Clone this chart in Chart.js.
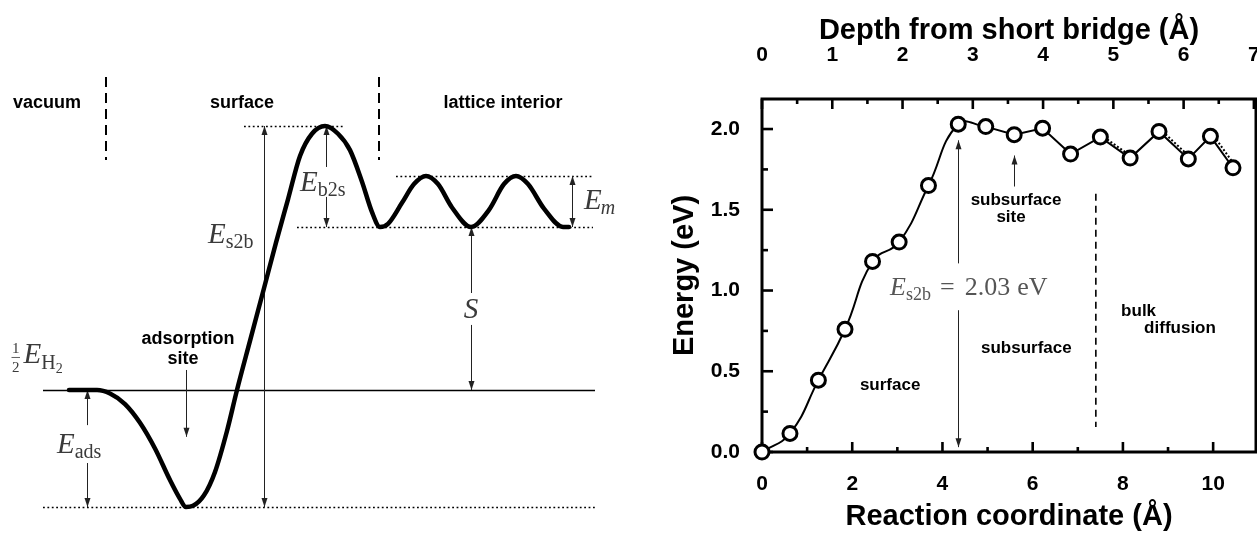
<!DOCTYPE html>
<html>
<head>
<meta charset="utf-8">
<script src="https://cdn.jsdelivr.net/npm/chart.js@4.4.1/dist/chart.umd.min.js"></script>
<style>
	html, body { margin: 0; padding: 0; background: #fff; }
	#wrap { position: relative; width: 1257px; height: 533px; overflow: hidden; }
	#scheme { position: absolute; left: 0; top: 0; }
	#profile { position: absolute; left: 620px; top: 0; }
</style>
</head>
<body>
<div id="wrap">
	<canvas id="scheme" width="620" height="533"></canvas>
	<canvas id="profile" width="637" height="533"></canvas>
</div>
<script>
// ---- right panel: energy profile along the path ----
const coord = [0, 0.62, 1.25, 1.84, 2.45, 3.04, 3.69, 4.35, 4.96, 5.59, 6.22, 6.84, 7.50, 8.16, 8.80, 9.45, 9.94, 10.44]
const energy = [0, 0.115, 0.445, 0.76, 1.18, 1.30, 1.65, 2.03, 2.015, 1.965, 2.005, 1.845, 1.95, 1.82, 1.985, 1.815, 1.955, 1.76]
const smoothUntil = 8 // curve is splined up to this image, straight after
const dottedCoord = [7.58, 8.24, null, 8.88, 9.53, null, 10.02, 10.52]
const dottedEnergy = [1.95, 1.82, null, 1.985, 1.815, null, 1.955, 1.76]
const coordTicks = [0, 2, 4, 6, 8, 10]
const coordMinor = [1, 3, 5, 7, 9]
const depthTicks = [0, 1, 2, 3, 4, 5, 6, 7]
const depthMinor = [0.5, 1.5, 2.5, 3.5, 4.5, 5.5, 6.5]
const energyTicks = [0, 0.5, 1, 1.5, 2]
const energyMinor = [0.25, 0.75, 1.25, 1.75]
const coordMax = 10.95
const depthMax = 7.03
const energyMax = 2.186
const barrier = 2.03

// ---- left panel: schematic potential (arbitrary units, H2/2 level = 0, adsorption well = -1) ----
const pathX = [6.9, 9.7, 11.0, 12.5, 14.0, 15.5, 17.0, 18.0, 18.6, 19.3, 20.4, 21.5, 22.7, 23.7, 25.0, 26.4, 27.6, 28.8, 30.0, 31.2, 32.5, 33.8, 35.0, 36.2, 37.2, 38.0, 38.8, 40.2, 41.4, 42.6, 43.8, 45.2, 47.1, 48.9, 50.4, 51.6, 52.8, 54.4, 56.3, 56.9]
const pathE = [0, 0, -0.03, -0.12, -0.28, -0.50, -0.77, -0.93, -1.0, -0.99, -0.90, -0.70, -0.35, 0, 0.42, 0.87, 1.26, 1.63, 2.0, 2.19, 2.256, 2.19, 2.05, 1.78, 1.52, 1.393, 1.42, 1.60, 1.76, 1.829, 1.76, 1.56, 1.393, 1.54, 1.76, 1.829, 1.76, 1.55, 1.393, 1.393]
const levelH2 = 0
const levelAds = -1
const levelTop = 2.256
const levelSub = 1.393
const levelMig = 1.829

Chart.defaults.font.family = '"Liberation Sans", Arial, sans-serif'
Chart.defaults.color = '#000'

const sans = (s) => 'bold ' + s + 'px "Liberation Sans", Arial, sans-serif'
const rm = (s) => s + 'px "Liberation Serif", "DejaVu Serif", serif'
const it = (s) => 'italic ' + s + 'px "Liberation Serif", "DejaVu Serif", serif'
const mathColor = '#3a3a3a'

function line(ctx, x1, y1, x2, y2) {
	ctx.beginPath()
	ctx.moveTo(x1, y1)
	ctx.lineTo(x2, y2)
	ctx.stroke()
}

function head(ctx, x, y, dir) {
	// dir -1 points up, +1 points down, tip at (x, y)
	ctx.beginPath()
	ctx.moveTo(x, y)
	ctx.lineTo(x - 3, y - dir * 9)
	ctx.lineTo(x + 3, y - dir * 9)
	ctx.closePath()
	ctx.fill()
}

// vertical measure: arrow heads at hi (up) and/or lo (down), optional gap for a label
function measure(ctx, X, Y, m) {
	const x = Math.round(X(m.x)) + 0.5
	const top = Y(m.hi)
	const bot = Y(m.lo)
	if (m.gap) {
		line(ctx, x, top, x, Y(m.gap[0]))
		line(ctx, x, Y(m.gap[1]), x, bot)
	} else {
		line(ctx, x, top, x, bot)
	}
	if (m.up !== false) head(ctx, x, top, -1)
	if (m.down !== false) head(ctx, x, bot, 1)
}

function mathLabel(ctx, x, y, runs, align) {
	let w = 0
	for (const r of runs) {
		ctx.font = r.font
		r.w = r.frac ? Math.max(...r.frac.map((t) => ctx.measureText(t).width)) : ctx.measureText(r.t).width
		w += r.w + (r.gap || 0)
	}
	let cx = align === 'center' ? x - w / 2 : x
	ctx.textAlign = 'left'
	ctx.textBaseline = 'alphabetic'
	for (const r of runs) {
		ctx.font = r.font
		if (r.frac) {
			const c = cx + r.w / 2
			ctx.textAlign = 'center'
			ctx.fillText(r.frac[0], c, y - 10)
			ctx.fillText(r.frac[1], c, y + 9)
			ctx.textAlign = 'left'
			ctx.fillRect(cx - 0.5, y - 6, r.w + 1, 0.8)
		} else {
			ctx.fillText(r.t, cx, y + (r.dy || 0))
		}
		cx += r.w + (r.gap || 0)
	}
}

// ---------- left schematic ----------
const schemeLevels = { from: 4.3, to: 59.5 }
const schemeDotted = [
	{ e: levelAds, from: 4.3, to: 59.5 },
	{ e: levelTop, from: 24.4, to: 34.5 },
	{ e: levelMig, from: 39.6, to: 59.3 },
	{ e: levelSub, from: 29.7, to: 59.3 },
]
const regionBorders = [10.6, 37.9]
const regionSpan = [2.675, 1.966]
const regionNames = [
	{ t: 'vacuum', x: 4.7 },
	{ t: 'surface', x: 24.2 },
	{ t: 'lattice interior', x: 50.3 },
]
const regionNameE = 2.45
const schemeMeasures = [
	{ x: 26.35, hi: levelTop, lo: levelAds },
	{ x: 32.6, hi: levelTop, lo: levelSub, gap: [1.906, 1.65] },
	{ x: 57.2, hi: levelMig, lo: levelSub },
	{ x: 47.1, hi: levelSub, lo: levelH2, gap: [0.829, 0.556] },
	{ x: 8.7, hi: levelH2, lo: levelAds, gap: [-0.30, -0.624] },
	{ x: 18.6, hi: 0.171, lo: -0.40, up: false },
]

const schemeNotes = {
	id: 'schemeNotes',
	beforeDatasetsDraw(chart) {
		const { ctx, scales: { x, y } } = chart
		const X = (v) => x.getPixelForValue(v)
		const Y = (v) => y.getPixelForValue(v)
		ctx.save()
		ctx.strokeStyle = '#000'
		ctx.fillStyle = '#000'
		ctx.lineWidth = 1.6
		line(ctx, X(schemeLevels.from), Math.round(Y(levelH2)) + 0.5, X(schemeLevels.to), Math.round(Y(levelH2)) + 0.5)
		ctx.setLineDash([1.8, 2.6])
		ctx.lineWidth = 1.6
		for (const d of schemeDotted) {
			const yy = Math.round(Y(d.e)) + 0.5
			line(ctx, X(d.from), yy, X(d.to), yy)
		}
		ctx.setLineDash([10, 6])
		ctx.lineWidth = 2
		for (const b of regionBorders) line(ctx, X(b), Y(regionSpan[0]), X(b), Y(regionSpan[1]))
		ctx.setLineDash([])

		ctx.strokeStyle = '#222'
		ctx.fillStyle = '#222'
		ctx.lineWidth = 1
		for (const m of schemeMeasures) measure(ctx, X, Y, m)

		ctx.fillStyle = '#000'
		ctx.font = sans(18)
		ctx.textAlign = 'center'
		ctx.textBaseline = 'middle'
		for (const r of regionNames) ctx.fillText(r.t, X(r.x), Y(regionNameE))
		ctx.fillText('adsorption', X(18.8), Y(0.436))
		ctx.fillText('site', X(18.3), Y(0.265))

		ctx.fillStyle = mathColor
		mathLabel(ctx, X(1.2), Y(0.231), [
			{ frac: ['1', '2'], font: rm(15), gap: 4 },
			{ t: 'E', font: it(29), gap: 0 },
			{ t: 'H', font: rm(20), dy: 6 },
			{ t: '2', font: rm(14), dy: 10 },
		])
		mathLabel(ctx, X(5.7), Y(-0.538), [{ t: 'E', font: it(29), gap: 0 }, { t: 'ads', font: rm(20), dy: 5 }])
		mathLabel(ctx, X(20.8), Y(1.256), [{ t: 'E', font: it(29), gap: 0 }, { t: 's2b', font: rm(20), dy: 5 }])
		mathLabel(ctx, X(30.0), Y(1.70), [{ t: 'E', font: it(29), gap: 0 }, { t: 'b2s', font: rm(20), dy: 5 }])
		mathLabel(ctx, X(58.4), Y(1.547), [{ t: 'E', font: it(29), gap: -1 }, { t: 'm', font: it(20), dy: 5 }])
		mathLabel(ctx, X(47.1), Y(0.615), [{ t: 'S', font: it(29) }], 'center')
		ctx.restore()
	},
}

new Chart(document.getElementById('scheme'), {
	type: 'scatter',
	data: {
		datasets: [
			{
				label: 'potential',
				data: pathX.map((x, i) => ({ x, y: pathE[i] })),
				showLine: true,
				borderColor: '#000',
				borderWidth: 4.5,
				borderCapStyle: 'round',
				borderJoinStyle: 'round',
				cubicInterpolationMode: 'monotone',
				pointRadius: 0,
			},
		],
	},
	options: {
		responsive: false,
		animation: false,
		events: [],
		layout: { padding: 0, autoPadding: false },
		plugins: { legend: { display: false }, tooltip: { enabled: false } },
		scales: {
			x: { type: 'linear', display: false, min: 0, max: 62 },
			y: { type: 'linear', display: false, min: -1.222, max: 3.333 },
		},
	},
	plugins: [schemeNotes],
})

// ---------- right energy profile ----------
const profileDecor = {
	id: 'profileDecor',
	beforeDatasetsDraw(chart) {
		const { ctx, chartArea: a, scales: { x, x2, y } } = chart
		const X = (v) => x.getPixelForValue(v)
		const Y = (v) => y.getPixelForValue(v)
		ctx.save()
		ctx.strokeStyle = '#000'
		ctx.fillStyle = '#000'
		ctx.lineWidth = 2.6
		for (const v of coordTicks) line(ctx, X(v), a.bottom, X(v), a.bottom - 10)
		for (const v of coordMinor) line(ctx, X(v), a.bottom, X(v), a.bottom - 5)
		for (const v of depthTicks) line(ctx, x2.getPixelForValue(v), a.top, x2.getPixelForValue(v), a.top + 10)
		for (const v of depthMinor) line(ctx, x2.getPixelForValue(v), a.top, x2.getPixelForValue(v), a.top + 5)
		for (const v of energyTicks) line(ctx, a.left, Y(v), a.left + 11, Y(v))
		for (const v of energyMinor) line(ctx, a.left, Y(v), a.left + 6, Y(v))
		ctx.lineWidth = 3
		ctx.strokeRect(a.left, a.top, a.right - a.left, a.bottom - a.top)

		// barrier measure and site pointer
		ctx.strokeStyle = '#222'
		ctx.fillStyle = '#222'
		ctx.lineWidth = 1
		measure(ctx, X, Y, { x: coord[7], hi: 1.93, lo: 0.03, gap: [1.168, 0.878] })
		measure(ctx, X, Y, { x: coord[9], hi: 1.836, lo: 1.644, down: false })

		ctx.strokeStyle = '#000'
		ctx.lineWidth = 1.6
		ctx.setLineDash([7, 5])
		line(ctx, X(7.40), Y(1.60), X(7.40), Y(0.155))
		ctx.setLineDash([])

		ctx.fillStyle = '#000'
		ctx.font = sans(17)
		ctx.textBaseline = 'middle'
		ctx.textAlign = 'center'
		ctx.fillText('subsurface', X(5.63), Y(1.557))
		ctx.fillText('site', X(5.52), Y(1.452))
		ctx.fillText('surface', X(2.84), Y(0.415))
		ctx.fillText('subsurface', X(5.86), Y(0.643))
		ctx.textAlign = 'left'
		ctx.fillText('bulk', X(7.96), Y(0.87))
		ctx.fillText('diffusion', X(8.47), Y(0.766))

		ctx.fillStyle = '#555'
		mathLabel(ctx, X(2.84), Y(0.97), [
			{ t: 'E', font: it(26), gap: 0 },
			{ t: 's2b', font: rm(18), dy: 5, gap: 9 },
			{ t: '=', font: rm(26), gap: 10 },
			{ t: barrier.toFixed(2), font: rm(26), gap: 7 },
			{ t: 'eV', font: rm(26) },
		])
		ctx.restore()
	},
}

const images = coord.map((c, i) => ({ x: c, y: energy[i] }))
const dotted = dottedCoord.map((c, i) => (c === null ? { x: null, y: null } : { x: c, y: dottedEnergy[i] }))
const tickFont = { family: '"Liberation Sans", Arial, sans-serif', weight: 'bold', size: 21 }
const titleFont = { family: '"Liberation Sans", Arial, sans-serif', weight: 'bold', size: 29, lineHeight: 1.1 }
const noPad = (s) => {
	s.paddingLeft = 0
	s.paddingRight = 0
	s.paddingTop = 0
	s.paddingBottom = 0
}

new Chart(document.getElementById('profile'), {
	type: 'scatter',
	data: {
		datasets: [
			{
				label: 'images',
				data: images,
				showLine: false,
				pointRadius: 7,
				pointBorderWidth: 3,
				pointBackgroundColor: '#fff',
				pointBorderColor: '#000',
				clip: false,
				order: 0,
			},
			{
				label: 'path (spline)',
				data: images.slice(0, smoothUntil + 1),
				showLine: true,
				tension: 0.45,
				borderColor: '#000',
				borderWidth: 2,
				pointRadius: 0,
				order: 1,
			},
			{
				label: 'path',
				data: images.slice(smoothUntil),
				showLine: true,
				tension: 0,
				borderColor: '#000',
				borderWidth: 2,
				pointRadius: 0,
				order: 2,
			},
			{
				label: 'alternate path',
				data: dotted,
				showLine: true,
				spanGaps: false,
				borderColor: '#000',
				borderWidth: 2,
				borderDash: [2, 2],
				pointRadius: 0,
				order: 3,
			},
		],
	},
	options: {
		responsive: false,
		animation: false,
		events: [],
		layout: { padding: { left: 0, right: 1, top: 0, bottom: 0 }, autoPadding: false },
		plugins: { legend: { display: false }, tooltip: { enabled: false } },
		scales: {
			x: {
				type: 'linear',
				position: 'bottom',
				min: 0,
				max: coordMax,
				grid: { display: false },
				border: { display: false },
				ticks: { font: tickFont, padding: 12, maxRotation: 0, autoSkip: false },
				afterBuildTicks: (s) => { s.ticks = coordTicks.map((v) => ({ value: v })) },
				title: { display: true, text: 'Reaction coordinate (Å)', font: titleFont, padding: { top: 0, bottom: 0 } },
				afterFit: (s) => { s.height = 81; noPad(s) },
			},
			x2: {
				type: 'linear',
				position: 'top',
				min: 0,
				max: depthMax,
				grid: { display: false },
				border: { display: false },
				ticks: { font: tickFont, padding: 23, maxRotation: 0, autoSkip: false },
				afterBuildTicks: (s) => { s.ticks = depthTicks.map((v) => ({ value: v })) },
				title: { display: true, text: 'Depth from short bridge (Å)', font: titleFont, padding: { top: 15, bottom: 0 } },
				afterFit: (s) => { s.height = 99; noPad(s) },
			},
			y: {
				type: 'linear',
				position: 'left',
				min: 0,
				max: energyMax,
				grid: { display: false },
				border: { display: false },
				ticks: { font: tickFont, padding: 14, callback: (v) => Number(v).toFixed(1) },
				afterBuildTicks: (s) => { s.ticks = energyTicks.map((v) => ({ value: v })) },
				title: { display: true, text: 'Energy (eV)', font: titleFont, padding: { top: 49, bottom: 0 } },
				afterFit: (s) => { s.width = 142; noPad(s) },
			},
		},
	},
	plugins: [profileDecor],
})
</script>
</body>
</html>
